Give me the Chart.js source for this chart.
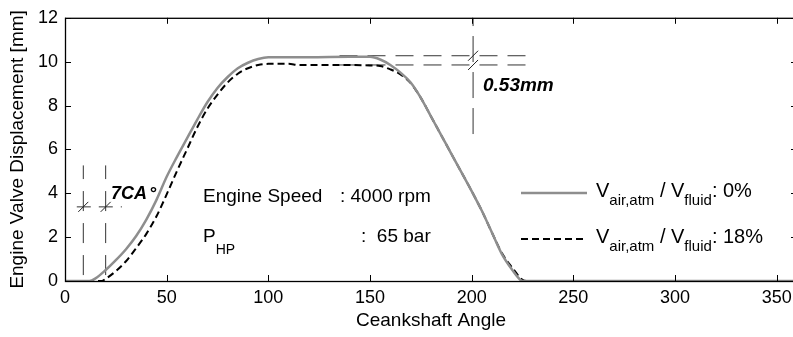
<!DOCTYPE html>
<html>
<head>
<meta charset="utf-8">
<script src="https://cdn.jsdelivr.net/npm/chart.js@4/dist/chart.umd.min.js"></script>
<style>
  html, body { margin: 0; padding: 0; background: #fff; overflow: hidden; }
  #wrap { width: 800px; height: 337px; }
</style>
</head>
<body>
<div id="wrap"><canvas id="c" width="800" height="337"></canvas></div>
<script>
/* Valve lift vs crank angle — two air-content cases, with the 7CA / 0.53mm callouts. */

const FONT = "'Liberation Sans', Arial, sans-serif";

// crank angle [deg] and valve lift [mm]
const ANGLE_0 = [0, 10, 12, 15, 20, 25, 30, 35, 40, 45, 50, 55, 60, 65, 70, 75, 80, 85, 90, 95,
                 100, 120, 140, 150, 155, 160, 165, 170, 175, 180, 185, 190, 195, 200, 205, 210,
                 215, 220, 224, 226, 360];
const LIFT_0 = [0, 0, 0, 0.12, 0.5, 0.95, 1.45, 2.05, 2.8, 3.7, 4.75, 5.65, 6.5, 7.35, 8.15, 8.8,
                9.3, 9.7, 9.95, 10.12, 10.2, 10.2, 10.22, 10.22, 10.1, 9.85, 9.5, 9.05, 8.35, 7.5,
                6.65, 5.8, 4.95, 4.1, 3.2, 2.2, 1.2, 0.5, 0.05, 0, 0];

const ANGLE_18 = [0, 18, 20, 25, 30, 35, 40, 45, 50, 55, 60, 65, 70, 75, 80, 85, 90, 95, 100,
                  110, 115, 130, 150, 155, 160, 165, 170, 175, 180, 185, 190, 195, 200, 205,
                  210, 215, 220, 225, 227, 360];
const LIFT_18 = [0, 0, 0.1, 0.45, 0.9, 1.5, 2.15, 2.95, 3.95, 5.0, 6.0, 7.0, 7.85, 8.5, 9.05,
                 9.45, 9.7, 9.85, 9.9, 9.9, 9.85, 9.85, 9.83, 9.8, 9.65, 9.42, 9.02, 8.35, 7.5,
                 6.65, 5.8, 4.95, 4.1, 3.2, 2.2, 1.25, 0.6, 0.05, 0, 0];

const X_TICKS = [0, 50, 100, 150, 200, 250, 300, 350];
const Y_TICKS = [0, 2, 4, 6, 8, 10, 12];

// callout guide lines (data coords)
const CA_MARKS = [9, 20];          // angles of the 7CA verticals
const CA_VSPAN = [0.27, 5.27];
const CA_LEVEL = 3.38;
const CA_HSPAN = [5.8, 28];
const MM_ANGLE = 200.7;
const MM_VSPAN = [6.7, 12];
const MM_LEVELS = [10.27, 9.85];
const MM_HSPAN = [135, 229];

const pts = (xs, ys) => xs.map((x, i) => ({ x, y: ys[i] }));

const guide = (data, dash) => ({
  data, borderColor: "#333", borderWidth: 1, borderDash: dash,
  pointRadius: 0, tension: 0, fill: false,
});

const datasets = [
  { label: "0%", data: pts(ANGLE_0, LIFT_0), borderColor: "#8e8e8e", borderWidth: 2.5,
    pointRadius: 0, cubicInterpolationMode: "monotone", fill: false },
  { label: "18%", data: pts(ANGLE_18, LIFT_18), borderColor: "#000", borderWidth: 2,
    borderDash: [7, 4], pointRadius: 0, cubicInterpolationMode: "monotone", fill: false },
  ...CA_MARKS.map((a) => guide([{ x: a, y: CA_VSPAN[0] }, { x: a, y: CA_VSPAN[1] }], [20, 12])),
  guide([{ x: CA_HSPAN[0], y: CA_LEVEL }, { x: CA_HSPAN[1], y: CA_LEVEL }], [14, 8]),
  guide([{ x: MM_ANGLE, y: MM_VSPAN[0] }, { x: MM_ANGLE, y: MM_VSPAN[1] }], [26, 10]),
  ...MM_LEVELS.map((v) => guide([{ x: MM_HSPAN[0], y: v }, { x: MM_HSPAN[1], y: v }], [18, 10])),
];

// frame, inward ticks, slash marks, texts, legend
const decor = {
  id: "decor",
  afterDraw(chart) {
    const { ctx, chartArea: a, scales: { x, y } } = chart;
    ctx.save();
    ctx.strokeStyle = "#000";
    ctx.lineWidth = 1;
    ctx.beginPath();
    X_TICKS.forEach((t) => {
      const px = Math.round(x.getPixelForValue(t)) + 0.5;
      ctx.moveTo(px, a.bottom); ctx.lineTo(px, a.bottom - 6);
      ctx.moveTo(px, a.top); ctx.lineTo(px, a.top + 6);
    });
    Y_TICKS.forEach((t) => {
      const py = Math.round(y.getPixelForValue(t)) + 0.5;
      ctx.moveTo(a.left, py); ctx.lineTo(a.left + 6, py);
      ctx.moveTo(a.right, py); ctx.lineTo(a.right - 6, py);
    });
    ctx.stroke();
    ctx.lineWidth = 1.3;
    ctx.strokeRect(a.left + 0.5, a.top + 0.5, a.right - a.left, a.bottom - a.top);

    // slash marks at guide crossings
    const slash = (xv, yv) => {
      const px = x.getPixelForValue(xv), py = y.getPixelForValue(yv);
      ctx.beginPath(); ctx.moveTo(px - 5, py + 5); ctx.lineTo(px + 5, py - 5); ctx.stroke();
    };
    ctx.lineWidth = 1;
    ctx.strokeStyle = "#222";
    CA_MARKS.forEach((m) => slash(m, CA_LEVEL));
    MM_LEVELS.forEach((v) => slash(MM_ANGLE, v));

    ctx.fillStyle = "#000";
    ctx.textBaseline = "alphabetic";
    ctx.textAlign = "left";
    ctx.font = `italic bold 18px ${FONT}`;
    ctx.fillText("7CA", 111, 199);
    ctx.fillText("\u00b0", 149, 199);
    ctx.font = `italic bold 19px ${FONT}`;
    ctx.fillText("0.53mm", 483, 91);

    const sub = (parts, x0, y0, big, small, drop) => {
      let cx = x0;
      parts.forEach(([txt, s]) => {
        ctx.font = s ? `${small}px ${FONT}` : `${big}px ${FONT}`;
        ctx.fillText(txt, cx, s ? y0 + drop : y0);
        cx += ctx.measureText(txt).width;
      });
    };
    ctx.font = `19px ${FONT}`;
    ctx.fillText("Engine Speed", 203, 202);
    ctx.fillText(": 4000 rpm", 340, 202);
    sub([["P", 0], ["HP", 1]], 203, 242, 19, 14, 12);
    ctx.font = `19px ${FONT}`;
    ctx.fillText(":  65 bar", 361, 242);

    // legend
    const legend = [
      { ds: chart.data.datasets[0], y: 193, pct: "0%" },
      { ds: chart.data.datasets[1], y: 239, pct: "18%" },
    ];
    legend.forEach((l) => {
      ctx.strokeStyle = l.ds.borderColor;
      ctx.lineWidth = l.ds.borderWidth;
      ctx.setLineDash(l.ds.borderDash || []);
      ctx.beginPath(); ctx.moveTo(521, l.y); ctx.lineTo(587, l.y); ctx.stroke();
      ctx.setLineDash([]);
      sub([["V", 0], ["air,atm", 1], [" / V", 0], ["fluid", 1], [": " + l.pct, 0]],
          596, l.y + 4, 20, 15, 8);
    });
    ctx.restore();
  },
};

new Chart(document.getElementById("c"), {
  type: "line",
  data: { datasets },
  plugins: [decor],
  options: {
    responsive: false,
    animation: false,
    layout: { padding: { top: 17, right: 3, left: 0, bottom: 0 } },
    plugins: { legend: { display: false }, tooltip: { enabled: false } },
    scales: {
      x: {
        type: "linear", min: 0, max: 360,
        afterBuildTicks: (s) => { s.ticks = X_TICKS.map((v) => ({ value: v })); },
        afterFit: (s) => { s.height = 56; },
        grid: { display: false, drawTicks: false },
        border: { display: false },
        ticks: { color: "#000", padding: 6, maxRotation: 0, font: { family: FONT, size: 18 } },
        title: { display: true, text: "Ceankshaft Angle", color: "#000",
                 padding: { top: 2, bottom: 5 }, font: { family: FONT, size: 19 } },
      },
      y: {
        min: 0, max: 12,
        afterBuildTicks: (s) => { s.ticks = Y_TICKS.map((v) => ({ value: v })); },
        afterFit: (s) => { s.width = 65; },
        grid: { display: false, drawTicks: false },
        border: { display: false },
        ticks: { color: "#000", padding: 7, font: { family: FONT, size: 18 } },
        title: { display: true, text: "Engine Valve Displacement [mm]", color: "#000",
                 padding: { top: 6, bottom: 2 }, font: { family: FONT, size: 19 } },
      },
    },
  },
});
</script>
</body>
</html>
